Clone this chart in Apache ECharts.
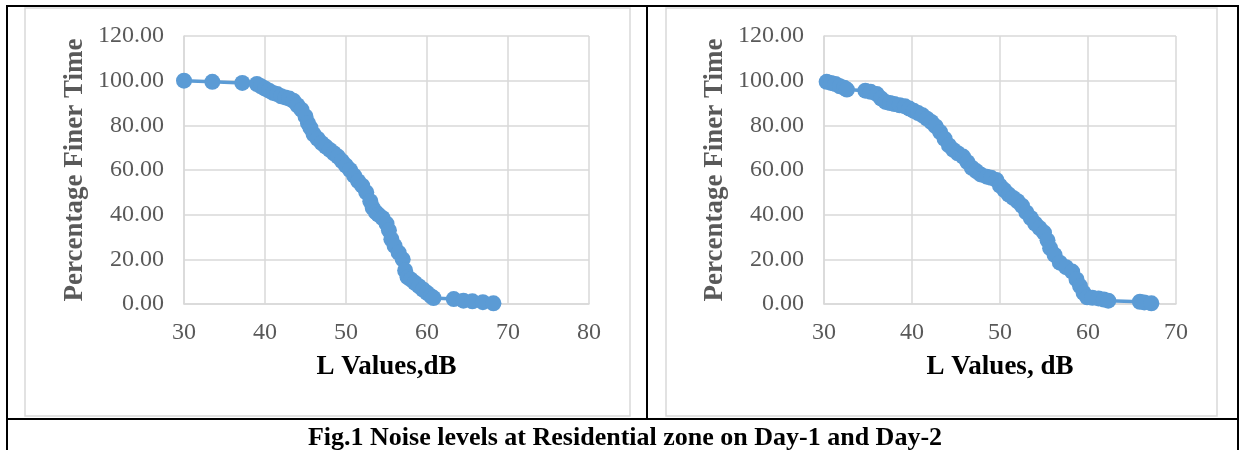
<!DOCTYPE html>
<html>
<head>
<meta charset="utf-8">
<script src="https://cdn.jsdelivr.net/npm/echarts@6/dist/echarts.min.js"></script>
<style>
html,body{margin:0;padding:0;background:#fff;}
#c{width:1240px;height:450px;}
</style>
</head>
<body>
<div id="c"></div>
<script>
// Day-1 (left chart): L values (dB) and percentage finer time
const day1L = [30,33.5,37.2,39,39.5,40,40.5,41,41.5,42,42.5,43,43.5,44,44.5,45,45.3,45.6,46,46.5,47,47.5,48,48.5,49,49.5,50,50.5,51,51.5,52,52.5,53,53.3,53.7,54,54.5,55,55.3,55.6,56,56.5,57,57.3,57.6,58,58.5,59,59.5,60,60.5,60.8,63.3,64.5,65.6,66.9,68.2];
const day1P = [100,99.5,99,98.5,97.5,96.5,95.5,94.5,94,93,92.5,92,91,89,87,84,81,79,76,74,72,70.5,69,67.5,66,64,62,60,57.5,55,53,50,46,43,41,40,38.5,36,33,29,26,23,20,15,12,11,9.5,8,6.5,5,3.5,2.7,2.2,1.5,1.2,0.8,0.3];
// Day-2 (right chart)
const day2L = [30.3,30.8,31.3,31.8,32.3,32.6,34.7,35.3,36,36.5,37,37.5,38,38.6,39.2,39.7,40.2,40.7,41.2,41.7,42.2,42.7,43.2,43.7,44.2,44.7,45.2,45.8,46.3,46.8,47.3,47.8,48.5,49,49.6,50,50.5,51,51.5,52,52.5,53,53.5,54,54.5,55,55.4,55.7,56.2,56.8,57.5,58.2,58.7,59.1,59.5,59.9,60.5,61.2,61.8,62.3,65.9,66.4,67.2];
const day2P = [99.5,99,98.5,97.5,96.8,96,95.5,95,94,92,90.5,90,89.5,89,88.5,87.5,86.5,85.5,84.5,83,81.5,79.5,77,74,71,69,67.5,66,63.5,61,59.5,58,57,56.5,55.5,53,51,49,47.5,46,44,41,38.5,36,34,32,28.5,25,22,18.5,16.5,14.5,11,8,5,3,2.8,2.5,2,1.5,1,0.7,0.3];
// Axis settings
const yMin = 0, yMax = 120, yStep = 20;
const x1Min = 30, x1Max = 80, x2Min = 30, x2Max = 70, xStep = 10;
const xTitles = ['L Values,dB', 'L Values, dB'];
const yTitle = 'Percentage Finer Time';
const caption = 'Fig.1 Noise levels at Residential zone on Day-1 and Day-2';

const pair = (xs, ys) => xs.map((x, i) => [x, ys[i]]);
const FONT = 'Liberation Serif, Times New Roman, serif';
const GRID = '#d9d9d9';
const BLUE = '#5B9BD5';

function xAxis(idx, min, max, name) {
  return {
    type: 'value', gridIndex: idx, min: min, max: max, interval: xStep,
    name: name, nameLocation: 'middle', nameGap: 50,
    nameTextStyle: {fontFamily: FONT, fontSize: 27, fontWeight: 'bold', color: '#000'},
    axisLine: {show: true, lineStyle: {color: GRID, width: 1.5}},
    axisTick: {show: false},
    axisLabel: {fontFamily: FONT, fontSize: 24, color: '#595959', margin: 17},
    splitLine: {show: true, lineStyle: {color: GRID, width: 1.5}}
  };
}
function yAxis(idx) {
  return {
    type: 'value', gridIndex: idx, min: yMin, max: yMax, interval: yStep,
    name: yTitle, nameLocation: 'middle', nameGap: 95,
    nameTextStyle: {fontFamily: FONT, fontSize: 27, fontWeight: 'bold', color: '#595959'},
    axisLine: {show: true, lineStyle: {color: GRID, width: 1.5}},
    axisTick: {show: false},
    axisLabel: {fontFamily: FONT, fontSize: 24, color: '#595959', margin: 20,
      formatter: v => v.toFixed(2)},
    splitLine: {show: true, lineStyle: {color: GRID, width: 1.5}}
  };
}
function series(idx, data) {
  return {
    type: 'line', xAxisIndex: idx, yAxisIndex: idx, data: data,
    symbol: 'circle', symbolSize: 16, showSymbol: true,
    lineStyle: {color: BLUE, width: 3.5}, itemStyle: {color: BLUE},
    animation: false, silent: true
  };
}

const chart = echarts.init(document.getElementById('c'));
chart.setOption({
  backgroundColor: '#fff',
  animation: false,
  title: {
    text: caption, left: 620, textAlign: 'center', top: 420,
    textStyle: {fontFamily: FONT, fontSize: 26, fontWeight: 'bold', color: '#000'}
  },
  grid: [
    {left: 184, top: 36, width: 405, height: 268},
    {left: 824, top: 36, width: 352, height: 268}
  ],
  xAxis: [xAxis(0, x1Min, x1Max, xTitles[0]), xAxis(1, x2Min, x2Max, xTitles[1])],
  yAxis: [yAxis(0), yAxis(1)],
  series: [series(0, pair(day1L, day1P)), series(1, pair(day2L, day2P))],
  graphic: [
    // inner chart frames
    {type: 'rect', shape: {x: 25, y: 8, width: 605, height: 408}, style: {fill: 'none', stroke: GRID, lineWidth: 1.5}, silent: true, z: -1},
    {type: 'rect', shape: {x: 666, y: 8, width: 551, height: 408}, style: {fill: 'none', stroke: GRID, lineWidth: 1.5}, silent: true, z: -1},
    // table borders
    {type: 'line', shape: {x1: 6, y1: 6, x2: 1239, y2: 6}, style: {stroke: '#000', lineWidth: 2}, silent: true},
    {type: 'line', shape: {x1: 7, y1: 5, x2: 7, y2: 450}, style: {stroke: '#000', lineWidth: 2}, silent: true},
    {type: 'line', shape: {x1: 1238, y1: 5, x2: 1238, y2: 450}, style: {stroke: '#000', lineWidth: 2}, silent: true},
    {type: 'line', shape: {x1: 647, y1: 5, x2: 647, y2: 419}, style: {stroke: '#000', lineWidth: 2}, silent: true},
    {type: 'line', shape: {x1: 6, y1: 419, x2: 1239, y2: 419}, style: {stroke: '#000', lineWidth: 2}, silent: true}
  ]
});
</script>
</body>
</html>
